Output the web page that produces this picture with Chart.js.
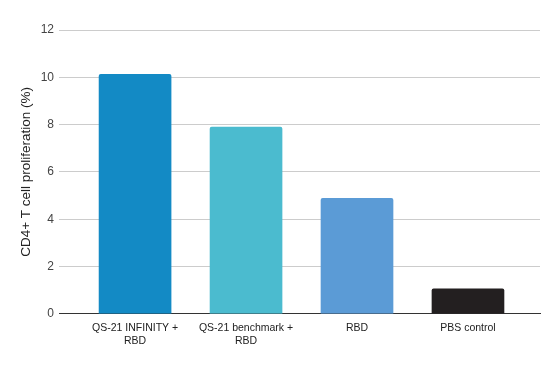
<!DOCTYPE html>
<html><head><meta charset="utf-8">
<script src="https://cdn.jsdelivr.net/npm/chart.js@4/dist/chart.umd.min.js"></script>
<style>html,body{margin:0;padding:0;background:#fff}#w{width:544px;height:369px}</style>
</head><body><div id="w"><canvas id="c"></canvas></div>
<script>
const categories = [["QS-21 INFINITY +","RBD"],["QS-21 benchmark +","RBD"],["RBD"],["PBS control"]];
const values = [10.13, 7.89, 4.88, 1.06];
const barColors = ["#138ac5","#4bbbcf","#5b9bd6","#231f20"];
const yTicks = [0,2,4,6,8,10,12];

const points = values.map((v,i)=>({x:i,y:v}));
new Chart(document.getElementById('c'),{
  type:'bar',
  data:{datasets:[{data:points,backgroundColor:barColors,barThickness:72,borderRadius:{topLeft:2,topRight:2},borderSkipped:'bottom'}]},
  options:{
    responsive:true,maintainAspectRatio:false,animation:false,
    layout:{padding:{top:30,right:4,bottom:22,left:18.5}},
    plugins:{legend:{display:false},tooltip:{enabled:false}},
    scales:{
      x:{type:'linear',min:-0.685,max:3.649,offset:false,
        afterBuildTicks:(s)=>{s.ticks=categories.map((c,i)=>({value:i}));},
        afterFit:(s)=>{s.paddingLeft=0;s.paddingRight=0;},
        grid:{display:false},border:{display:true,color:'#333',width:1},
        ticks:{autoSkip:false,maxRotation:0,padding:0,color:'#222',font:{family:'Liberation Sans, Arial',size:10.5},
          callback:(v)=>categories[v]}
      },
      y:{min:0,max:12,
        afterBuildTicks:(s)=>{s.ticks=yTicks.map(v=>({value:v}));},
        grid:{color:'#cccccc',drawTicks:false},border:{display:false},
        ticks:{padding:5,color:'#444',font:{family:'Liberation Sans, Arial',size:12}},
        title:{display:true,text:'CD4+ T cell proliferation (%)',color:'#222',font:{family:'Liberation Sans, Arial',size:13.5},padding:{top:0,bottom:1}}
      }
    }
  }
});
</script></body></html>
